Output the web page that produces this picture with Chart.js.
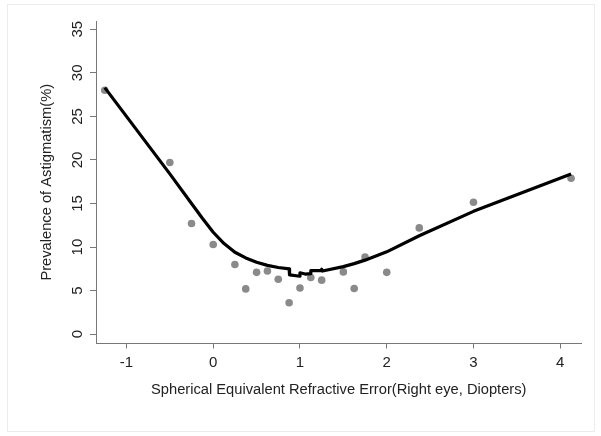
<!DOCTYPE html>
<html>
<head>
<meta charset="utf-8">
<script src="https://cdn.jsdelivr.net/npm/chart.js@4/dist/chart.umd.min.js"></script>
<style>
  html, body { margin: 0; padding: 0; background: #ffffff; }
  #wrap { position: relative; width: 601px; height: 436px; }
</style>
</head>
<body>
<div id="wrap"><canvas id="c" width="601" height="436"></canvas></div>
<script>
// Observed data: spherical equivalent (D) vs prevalence of astigmatism (%)
const refractiveError = [-1.25, -0.5, -0.25, 0, 0.25, 0.375, 0.5, 0.625, 0.75, 0.875, 1, 1.125, 1.25, 1.5, 1.625, 1.75, 2, 2.375, 3, 4.125];
const prevalence = [28.0, 19.7, 12.7, 10.3, 8.0, 5.2, 7.1, 7.25, 6.3, 3.6, 5.3, 6.5, 6.2, 7.15, 5.25, 8.85, 7.1, 12.2, 15.15, 17.9];

// Smoothed (lowess) curve
const fitX = [-1.25, -1, -0.75, -0.5, -0.25, -0.125, 0, 0.125, 0.25, 0.375, 0.5, 0.625, 0.75, 0.875, 0.88, 1.0, 1.0, 1.06, 1.125, 1.125, 1.24, 1.25, 1.26, 1.5, 1.625, 1.75, 2, 2.375, 3, 4.125];
const fitY = [28.3, 25.0, 21.7, 18.4, 15.0, 13.3, 11.7, 10.4, 9.4, 8.75, 8.25, 7.9, 7.65, 7.5, 6.8, 6.65, 7.05, 6.9, 6.95, 7.3, 7.3, 7.45, 7.25, 7.75, 8.1, 8.5, 9.45, 11.3, 14.1, 18.4];

// Axis ticks
const xTicks = [-1, 0, 1, 2, 3, 4];
const yTicks = [0, 5, 10, 15, 20, 25, 30, 35];

const xTitle = 'Spherical Equivalent Refractive Error(Right eye, Diopters)';
const yTitle = 'Prevalence of Astigmatism(%)';

const FONT = 'Liberation Sans, Arial, sans-serif';

const framePlugin = {
  id: 'frame',
  beforeDraw(chart) {
    const ctx = chart.ctx;
    ctx.save();
    ctx.fillStyle = '#ffffff';
    ctx.fillRect(0, 0, chart.width, chart.height);
    ctx.strokeStyle = '#ececec';
    ctx.lineWidth = 1;
    ctx.strokeRect(7.5, 4.5, 587, 427);
    ctx.restore();
  }
};

new Chart(document.getElementById('c'), {
  type: 'scatter',
  data: {
    datasets: [
      {
        label: 'fit',
        data: fitX.map((x, i) => ({ x: x, y: fitY[i] })),
        showLine: true,
        borderColor: '#000000',
        borderWidth: 3.2,
        borderJoinStyle: 'round',
        borderCapStyle: 'butt',
        pointRadius: 0,
        tension: 0,
        fill: false,
        order: 0
      },
      {
        label: 'observed',
        data: refractiveError.map((x, i) => ({ x: x, y: prevalence[i] })),
        backgroundColor: '#8a8a8a',
        borderColor: '#8a8a8a',
        pointRadius: 3.8,
        pointBorderWidth: 0,
        order: 1
      }
    ]
  },
  options: {
    responsive: false,
    animation: false,
    devicePixelRatio: 1,
    layout: { padding: { left: 0, top: 21, right: 19.5, bottom: 0 } },
    plugins: {
      legend: { display: false },
      tooltip: { enabled: false }
    },
    scales: {
      x: {
        type: 'linear',
        position: 'bottom',
        min: -1.351,
        max: 4.245,
        afterBuildTicks: s => { s.ticks = xTicks.map(v => ({ value: v })); },
        afterFit: s => { s.height = 92.5; },
        grid: { drawOnChartArea: false, drawTicks: true, tickLength: 5, color: '#777777', lineWidth: 1 },
        border: { display: true, color: '#777777', width: 1 },
        ticks: { color: '#222222', font: { family: FONT, size: 15 }, padding: 5, maxRotation: 0 },
        title: { display: true, text: xTitle, color: '#222222', font: { family: FONT, size: 14.7 }, padding: { top: 0, bottom: 37.2 } }
      },
      y: {
        type: 'linear',
        position: 'left',
        min: -1.07,
        max: 35.95,
        afterBuildTicks: s => { s.ticks = yTicks.map(v => ({ value: v })); },
        afterFit: s => { s.width = 96; },
        grid: { drawOnChartArea: false, drawTicks: true, tickLength: 6, color: '#777777', lineWidth: 1 },
        border: { display: true, color: '#777777', width: 1 },
        ticks: { color: '#222222', font: { family: FONT, size: 15 }, padding: 3.5, minRotation: 90, maxRotation: 90, crossAlign: 'center' },
        title: { display: true, text: yTitle, color: '#222222', font: { family: FONT, size: 14.7 }, padding: { top: 38.2, bottom: 0 } }
      }
    }
  },
  plugins: [framePlugin]
});
</script>
</body>
</html>
